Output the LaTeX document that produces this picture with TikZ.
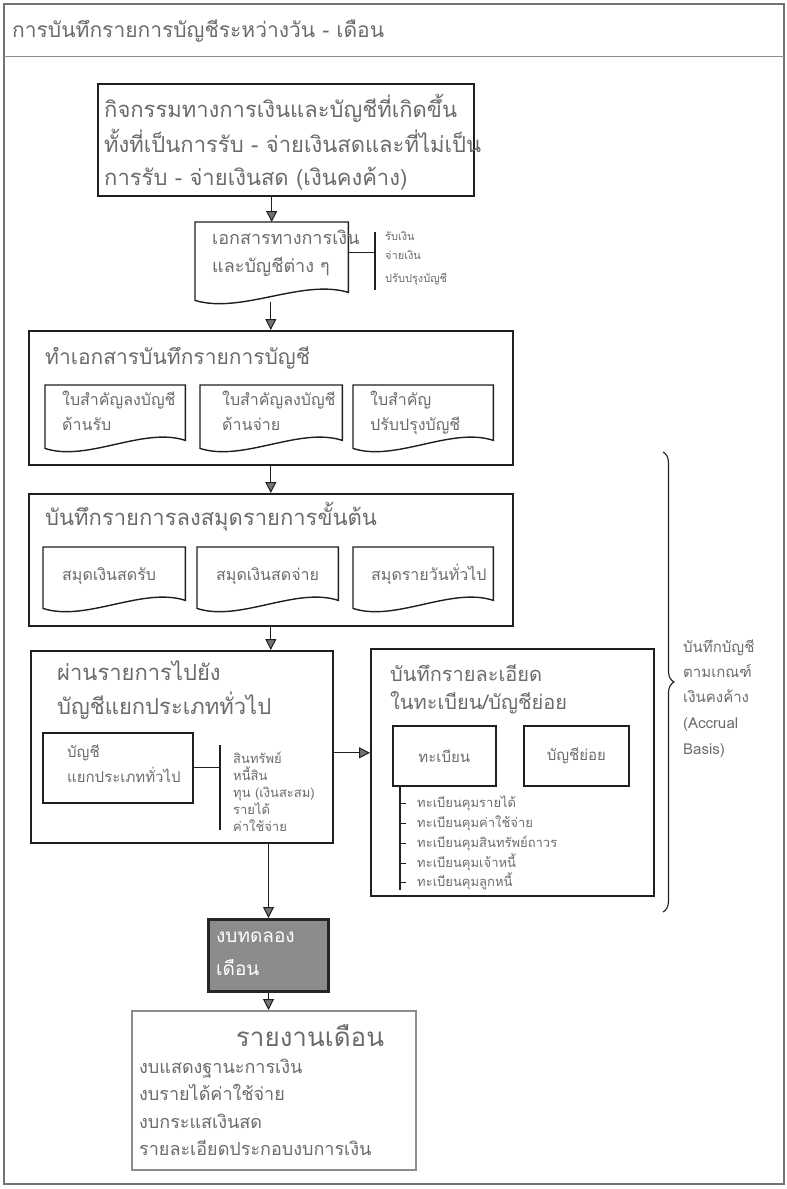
\documentclass[tikz,border=0pt]{standalone}
\usepackage{fontspec}
\newfontfamily\thai[Script=Thai]{Loma}
\usetikzlibrary{arrows.meta,decorations.pathreplacing,calc}
\definecolor{ink}{gray}{0.42}
\definecolor{edge}{gray}{0.12}
\newcommand\thfs[1]{\thai\fontsize{#1}{#1}\selectfont}
\tikzset{
  box/.style={draw=edge, line width=1.6pt, inner sep=0pt, anchor=north west},
  docn/.style={inner sep=0pt, anchor=north west},
  docline/.style={draw=edge, line width=1.4pt},
  txt/.style={text=ink, anchor=base west, inner sep=0pt},
  arr/.style={draw=edge, line width=1pt, -{Triangle[length=11pt,width=11pt,fill=black!55]}},
  thinline/.style={draw=edge, line width=1.2pt},
}
\newcommand\docpath[1]{\draw[docline] (#1.north west) -- (#1.north east) -- ($(#1.south east)+(0,-10)$) .. controls ($(#1.south west)!0.7!(#1.south east)+(0,-24)$) and ($(#1.south west)!0.3!(#1.south east)+(0,12)$) .. ($(#1.south west)+(0,-2)$) -- cycle;}
\begin{document}
\begin{tikzpicture}[x=1pt,y=-1pt,font=\thai]
\useasboundingbox (0,0) rectangle (787,1189);
% frame
\draw[draw=black!55, line width=1.3pt] (4,4) rectangle (784,1184);
\draw[draw=black!45, line width=1pt] (4,56) -- (784,56);
\node[txt, font=\thfs{21}] (title) at (12,37) {การบันทึกรายการบัญชีระหว่างวัน - เดือน};
% top box
\node[box, minimum width=376pt, minimum height=112pt] (act) at (97,83) {};
\node[txt, font=\thfs{22}] (act1) at (104,117) {กิจกรรมทางการเงินและบัญชีที่เกิดขึ้น};
\node[txt, font=\thfs{22}] (act2) at (104,152) {ทั้งที่เป็นการรับ - จ่ายเงินสดและที่ไม่เป็น};
\node[txt, font=\thfs{22}] (act3) at (104,185) {การรับ - จ่ายเงินสด (เงินคงค้าง)};
% documents
\node[docn, minimum width=153pt, minimum height=80pt] (doc) at (195,222) {};
\docpath{doc}
\node[txt, font=\thfs{18}] (doc1) at (212,244) {เอกสารทางการเงิน};
\node[txt, font=\thfs{18}] (doc2) at (212,272) {และบัญชีต่าง ๆ};
\coordinate (brT) at (375,232);
\coordinate (brB) at (375,290);
\draw[thinline] (brT) -- (brB);
\draw[thinline] ([yshift=10pt]doc.east) -- ([yshift=10pt]doc.east -| brT);
\node[txt, font=\thfs{11}] (s1) at (385,240) {รับเงิน};
\node[txt, font=\thfs{11}] (s2) at (385,259) {จ่ายเงิน};
\node[txt, font=\thfs{11}] (s3) at (385,282) {ปรับปรุงบัญชี};
% box 3
\node[box, minimum width=484pt, minimum height=134pt] (b3) at (28,330) {};
\node[txt, font=\thfs{21}] (b3t) at (45,364) {ทำเอกสารบันทึกรายการบัญชี};
\node[docn, minimum width=140pt, minimum height=65pt] (d1) at (45,385) {};
\node[docn, minimum width=142pt, minimum height=65pt] (d2) at (200,385) {};
\node[docn, minimum width=140pt, minimum height=65pt] (d3) at (353,385) {};
\docpath{d1}\docpath{d2}\docpath{d3}
\node[txt, font=\thfs{16}] (d1a) at (62,405) {ใบสำคัญลงบัญชี};
\node[txt, font=\thfs{16}] (d1b) at (62,430) {ด้านรับ};
\node[txt, font=\thfs{16}] (d2a) at (222,405) {ใบสำคัญลงบัญชี};
\node[txt, font=\thfs{16}] (d2b) at (222,430) {ด้านจ่าย};
\node[txt, font=\thfs{16}] (d3a) at (370,405) {ใบสำคัญ};
\node[txt, font=\thfs{16}] (d3b) at (370,430) {ปรับปรุงบัญชี};
% box 4
\node[box, minimum width=484pt, minimum height=132pt] (b4) at (28,493) {};
\node[txt, font=\thfs{22}] (b4t) at (45,525) {บันทึกรายการลงสมุดรายการขั้นต้น};
\node[docn, minimum width=142pt, minimum height=63pt] (e1) at (43,547) {};
\node[docn, minimum width=141pt, minimum height=63pt] (e2) at (197,547) {};
\node[docn, minimum width=140pt, minimum height=63pt] (e3) at (353,547) {};
\docpath{e1}\docpath{e2}\docpath{e3}
\node[txt, font=\thfs{16}] (e1a) at (62,580) {สมุดเงินสดรับ};
\node[txt, font=\thfs{16}] (e2a) at (216,580) {สมุดเงินสดจ่าย};
\node[txt, font=\thfs{16}] (e3a) at (371,580) {สมุดรายวันทั่วไป};
% box 5
\node[box, minimum width=302pt, minimum height=192pt] (b5) at (30,650) {};
\node[txt, font=\thfs{22}] (b5t1) at (57,680) {ผ่านรายการไปยัง};
\node[txt, font=\thfs{22}] (b5t2) at (57,714) {บัญชีแยกประเภททั่วไป};
\node[box, minimum width=150pt, minimum height=70pt] (g1) at (42,732) {};
\node[txt, font=\thfs{15}] (g1a) at (67,757) {บัญชี};
\node[txt, font=\thfs{15}] (g1b) at (67,782) {แยกประเภททั่วไป};
\coordinate (gbT) at (220,745);
\coordinate (gbB) at (220,830);
\draw[thinline] (gbT) -- (gbB);
\draw[thinline] (g1.east) -- (g1.east -| gbT);
\node[txt, font=\thfs{13}] (l1) at (233,763) {สินทรัพย์};
\node[txt, font=\thfs{13}] (l2) at (233,780) {หนี้สิน};
\node[txt, font=\thfs{13}] (l3) at (233,797) {ทุน (เงินสะสม)};
\node[txt, font=\thfs{13}] (l4) at (233,814) {รายได้};
\node[txt, font=\thfs{13}] (l5) at (233,831) {ค่าใช้จ่าย};
% box 6
\node[box, minimum width=283pt, minimum height=247pt] (b6) at (370,648) {};
\node[txt, font=\thfs{20}] (b6t1) at (390,681) {บันทึกรายละเอียด};
\node[txt, font=\thfs{20}] (b6t2) at (390,709) {ในทะเบียน/บัญชีย่อย};
\node[box, minimum width=103pt, minimum height=60pt, text=ink, font=\thfs{15}] (r1) at (392,725) {ทะเบียน};
\node[box, minimum width=105pt, minimum height=60pt, text=ink, font=\thfs{15}] (r2) at (523,725) {บัญชีย่อย};
\coordinate (tT) at ([xshift=8pt]r1.south west);
\coordinate (tB) at ($(tT)+(0,103)$);
\draw[thinline] (tT) -- (tB);
\foreach \yy/\tt [count=\i] in {807/ทะเบียนคุมรายได้,827/ทะเบียนคุมค่าใช้จ่าย,847/ทะเบียนคุมสินทรัพย์ถาวร,867/ทะเบียนคุมเจ้าหนี้,886/ทะเบียนคุมลูกหนี้}{
  \draw[draw=edge, line width=0.8pt] (tT |- 0,\yy-4) -- ++(6,0);
  \node[txt, font=\thfs{13}] (reg\i) at (417,\yy) {\tt};
}
% brace
\draw[decorate, decoration={brace, amplitude=11pt}, draw=edge, line width=1.1pt] (663,452) -- (663,912);
\node[txt, font=\thfs{15}] (br1) at (683,652) {บันทึกบัญชี};
\node[txt, font=\thfs{15}] (br2) at (683,677) {ตามเกณฑ์};
\node[txt, font=\thfs{15}] (br3) at (683,702) {เงินคงค้าง};
\node[txt, font=\thfs{15}] (br4) at (683,728) {(Accrual};
\node[txt, font=\thfs{15}] (br5) at (683,754) {Basis)};
% trial balance
\node[box, minimum width=120pt, minimum height=72pt, fill=black!45, draw=black!85, line width=3pt] (tb) at (207,918) {};
\node[txt, text=white, font=\thfs{19}] (tb1) at (216,942) {งบทดลอง};
\node[txt, text=white, font=\thfs{19}] (tb2) at (216,975) {เดือน};
% report
\node[box, minimum width=284pt, minimum height=159pt, draw=black!45, line width=2.2pt] (rep) at (131,1010) {};
\node[txt, anchor=base, font=\thfs{26}] (rept) at (310,1046) {รายงานเดือน};
\node[txt, font=\thfs{18}] (rep1) at (139,1073) {งบแสดงฐานะการเงิน};
\node[txt, font=\thfs{18}] (rep2) at (139,1100) {งบรายได้ค่าใช้จ่าย};
\node[txt, font=\thfs{18}] (rep3) at (139,1128) {งบกระแสเงินสด};
\node[txt, font=\thfs{18}] (rep4) at (139,1155) {รายละเอียดประกอบงบการเงิน};
% arrows
\draw[arr] (doc.north |- act.south) -- (doc.north);
\draw[arr] (b3.north |- doc.south) -- (b3.north);
\draw[arr] (b3.south) -- (b4.north);
\draw[arr] (b4.south) -- (b4.south |- b5.north);
\draw[arr] ([yshift=-6pt]b5.east) -- ([yshift=-6pt]b5.east -| b6.west);
\draw[arr] (tb.north |- b5.south) -- (tb.north);
\draw[arr] (tb.south) -- (tb.south |- rep.north);
\end{tikzpicture}
\end{document}
